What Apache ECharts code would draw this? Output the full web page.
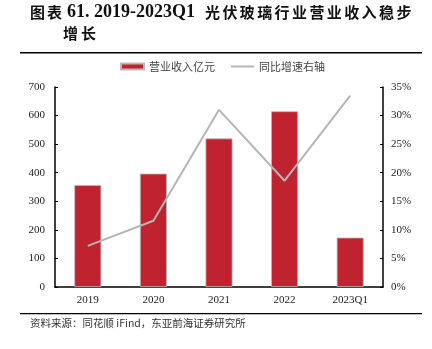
<!DOCTYPE html>
<html><head><meta charset="utf-8">
<script src="https://cdn.jsdelivr.net/npm/echarts@6/dist/echarts.min.js"></script>
<style>html,body{margin:0;padding:0;background:#fff}#c{width:432px;height:349px}</style>
</head><body><div id="c"></div>
<script>
var categories = ['2019','2020','2021','2022','2023Q1'];
var revenue = [357, 397, 520, 615, 173];
var growth = [7.2, 11.6, 31.0, 18.6, 33.5];
var leftTicks = [0,100,200,300,400,500,600,700];
var rightTicks = ['0%','5%','10%','15%','20%','25%','30%','35%'];

var serif = '"Liberation Serif","Times New Roman","Noto Sans CJK SC",serif';
var cjkBold = 'bold 15px "Noto Sans CJK SC",sans-serif';

function spaced(str, x0, y, pitch, font){
  var out = [];
  for (var i=0;i<str.length;i++){
    out.push({type:'text',x:x0+i*pitch,y:y,style:{text:str[i],font:font,fill:'#111'}});
  }
  return out;
}

var graphics = [].concat(
  spaced('图表', 30, 5, 17, cjkBold),
  [{type:'text',x:67,y:3,style:{text:'61. 2019-2023Q1',font:'bold 18px "Liberation Serif",serif',fill:'#111'}}],
  spaced('光伏玻璃行业营业收入稳步', 205, 5, 17.4, cjkBold),
  spaced('增长', 63, 26, 18, cjkBold),
  [
    {type:'rect',shape:{x:20,y:52,width:402,height:1.5},style:{fill:'#000'}},
    {type:'rect',shape:{x:20,y:313,width:402,height:1.2},style:{fill:'#000'}},
    {type:'text',x:30,y:318,style:{text:'资料来源：同花顺 iFind，东亚前海证券研究所',
      font:'10.5px "Noto Sans CJK SC",sans-serif',fill:'#333'}}
  ]
);

var chart = echarts.init(document.getElementById('c'));
chart.setOption({
  animation:false,
  backgroundColor:'#fff',
  grid:{left:55,right:49,top:87,bottom:62},
  legend:{
    top:56,left:115,itemGap:15,itemWidth:23,itemHeight:6,
    textStyle:{fontSize:11,color:'#444',fontFamily:'"Noto Sans CJK SC",sans-serif'},
    data:[{name:'营业收入亿元',icon:'rect'},{name:'同比增速右轴'}]
  },
  xAxis:{
    type:'category',data:categories,
    axisLine:{lineStyle:{color:'#000',width:1.5}},
    axisTick:{show:false},
    axisLabel:{color:'#222',fontSize:11,fontFamily:serif,margin:8}
  },
  yAxis:[{
    type:'value',min:0,max:700,interval:100,
    axisLine:{show:true,lineStyle:{color:'#000',width:1.5}},
    axisTick:{show:true,inside:true,length:3,lineStyle:{color:'#000'}},
    splitLine:{show:false},
    axisLabel:{color:'#222',fontSize:11,fontFamily:serif,margin:10}
  },{
    type:'value',min:0,max:35,interval:5,
    axisLine:{show:true,lineStyle:{color:'#000',width:1.5}},
    axisTick:{show:true,inside:true,length:3,lineStyle:{color:'#000'}},
    splitLine:{show:false},
    axisLabel:{color:'#222',fontSize:11,fontFamily:serif,margin:8,
      formatter:function(v){return rightTicks[Math.round(v/5)];}}
  }],
  series:[{
    name:'营业收入亿元',type:'bar',data:revenue,barWidth:27,
    itemStyle:{color:'#C0222F',borderColor:'#bbb',borderWidth:0.8}
  },{
    name:'同比增速右轴',type:'line',yAxisIndex:1,data:growth,
    symbol:'none',showSymbol:false,lineStyle:{color:'#b5b5b5',width:2,opacity:1},
    itemStyle:{color:'#b5b5b5',opacity:0}
  }],
  graphic:graphics
});
</script></body></html>
